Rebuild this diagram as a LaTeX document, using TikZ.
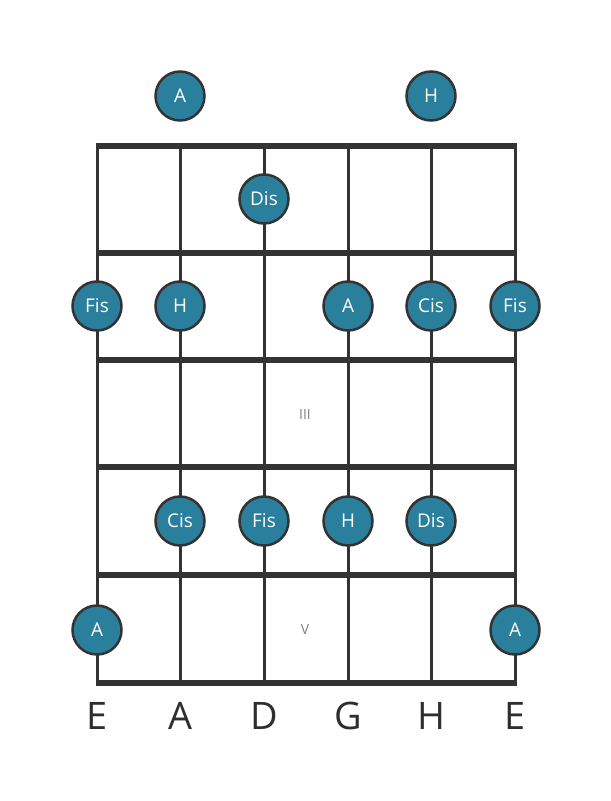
\documentclass[tikz,border=0pt]{standalone}
\usepackage{fontspec}
\setmainfont{Open Sans}
\begin{document}
\begin{tikzpicture}[x=1bp,y=-1bp,
  fretline/.style={draw=linegray,line width=5.5bp},
  stringline/.style={draw=linegray,line width=3bp},
  notedot/.style={circle,fill=dotblue,draw=linegray,line width=2.5bp,minimum size=49bp,inner sep=0pt,text=white,font=\fontsize{19}{21}\selectfont},
  strlabel/.style={font=\fontsize{38}{40}\selectfont,text=labelgray,inner sep=0pt},
  fretnum/.style={font=\fontsize{14}{16}\selectfont,text=gray,inner sep=0pt}]
\definecolor{linegray}{HTML}{333333}
\definecolor{dotblue}{HTML}{2A7F9C}
\definecolor{labelgray}{HTML}{2E2E2E}
\useasboundingbox (0,0) rectangle (611,801);
\fill[white] (0,0) rectangle (611,801);
% strings
\foreach \n/\x in {s1/97,s2/180,s3/264,s4/348,s5/431,s6/515}{
  \coordinate (\n t) at (\x,146);
  \coordinate (\n b) at (\x,683);
  \draw[stringline] (\n t) -- (\n b);
}
% frets
\foreach \n/\y in {f0/146,f1/253,f2/360,f3/467,f4/575,f5/683}{
  \coordinate (\n l) at (95.5,\y);
  \coordinate (\n r) at (516.5,\y);
  \draw[fretline] (\n l) -- (\n r);
}
% fret numbers
\node[fretnum] (fnIII) at (305,415) {III};
\node[fretnum] (fnV) at (305,630) {V};
% notes
\node[notedot] (o2) at (180,96) {A};
\node[notedot] (o5) at (431,96) {H};
\node[notedot] (n13) at (264,199) {Dis};
\node[notedot] (n21) at (97,306) {Fis};
\node[notedot] (n22) at (180,306) {H};
\node[notedot] (n24) at (348,306) {A};
\node[notedot] (n25) at (431,306) {Cis};
\node[notedot] (n26) at (515,306) {Fis};
\node[notedot] (n42) at (180,521) {Cis};
\node[notedot] (n43) at (264,521) {Fis};
\node[notedot] (n44) at (348,521) {H};
\node[notedot] (n45) at (431,521) {Dis};
\node[notedot] (n51) at (97,630) {A};
\node[notedot] (n56) at (515,630) {A};
% string labels
\node[strlabel] (l1) at (97,716) {E};
\node[strlabel] (l2) at (180,716) {A};
\node[strlabel] (l3) at (264,716) {D};
\node[strlabel] (l4) at (348,716) {G};
\node[strlabel] (l5) at (431,716) {H};
\node[strlabel] (l6) at (515,716) {E};
\end{tikzpicture}
\end{document}
